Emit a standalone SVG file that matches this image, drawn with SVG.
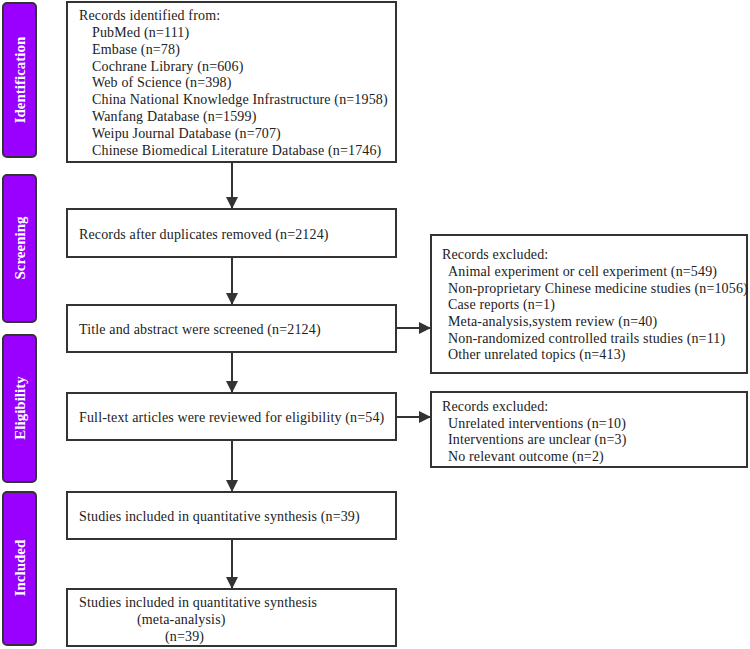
<svg xmlns="http://www.w3.org/2000/svg" width="750" height="649" viewBox="0 0 750 649">
<style>
.box{fill:#fff;stroke:#333;stroke-width:2}
.side{fill:#9900ff;stroke:#333;stroke-width:2}
.t{font-family:"Liberation Serif","Times New Roman",serif;font-size:14px;letter-spacing:0.15px;fill:#222}
.s{font-family:"Liberation Serif","Times New Roman",serif;font-size:15px;font-weight:bold;fill:#fff}
.ln{stroke:#333;stroke-width:2;fill:none}
</style>
<defs>
<marker id="ah" markerWidth="12" markerHeight="12" refX="11" refY="6" orient="auto" markerUnits="userSpaceOnUse">
<path d="M0,0 L12,6 L0,12 Z" fill="#333"/>
</marker>
</defs>
<rect width="750" height="649" fill="#fff"/>
<g id="stage-identification">
<rect class="side" x="3" y="3" width="33" height="154" rx="4"/>
<text class="s" transform="translate(25,80) rotate(-90)" text-anchor="middle">Identification</text>
</g>
<g id="stage-screening">
<rect class="side" x="3" y="175" width="33" height="147" rx="4"/>
<text class="s" transform="translate(25,248) rotate(-90)" text-anchor="middle">Screening</text>
</g>
<g id="stage-eligibility">
<rect class="side" x="3" y="335" width="33" height="147" rx="4"/>
<text class="s" transform="translate(25,408) rotate(-90)" text-anchor="middle">Eligibility</text>
</g>
<g id="stage-included">
<rect class="side" x="3" y="492" width="33" height="153" rx="4"/>
<text class="s" transform="translate(25,568) rotate(-90)" text-anchor="middle">Included</text>
</g>
<g id="connectors">
<line class="ln" x1="232" y1="162" x2="232" y2="208" marker-end="url(#ah)"/>
<line class="ln" x1="232" y1="257" x2="232" y2="304" marker-end="url(#ah)"/>
<line class="ln" x1="232" y1="352" x2="232" y2="392" marker-end="url(#ah)"/>
<line class="ln" x1="232" y1="440" x2="232" y2="491" marker-end="url(#ah)"/>
<line class="ln" x1="232" y1="539" x2="232" y2="588" marker-end="url(#ah)"/>
<line class="ln" x1="396" y1="328" x2="430" y2="328" marker-end="url(#ah)"/>
<line class="ln" x1="396" y1="417" x2="430" y2="417" marker-end="url(#ah)"/>
</g>
<g id="records-identified">
<rect class="box" x="67" y="2" width="329" height="160"/>
<text class="t" x="79" y="20">Records identified from:</text>
<text class="t" x="92" y="37">PubMed (n=111)</text>
<text class="t" x="92" y="54">Embase (n=78)</text>
<text class="t" x="92" y="71">Cochrane Library (n=606)</text>
<text class="t" x="92" y="87">Web of Science (n=398)</text>
<text class="t" x="92" y="104">China National Knowledge Infrastructure (n=1958)</text>
<text class="t" x="92" y="121">Wanfang Database (n=1599)</text>
<text class="t" x="92" y="138">Weipu Journal Database (n=707)</text>
<text class="t" x="92" y="155">Chinese Biomedical Literature Database (n=1746)</text>
</g>
<g id="after-duplicates">
<rect class="box" x="67" y="209" width="329" height="48"/>
<text class="t" x="79" y="239">Records after duplicates removed (n=2124)</text>
</g>
<g id="title-abstract">
<rect class="box" x="67" y="305" width="329" height="47"/>
<text class="t" x="79" y="334">Title and abstract were screened (n=2124)</text>
</g>
<g id="full-text">
<rect class="box" x="67" y="393" width="329" height="47"/>
<text class="t" x="79" y="422">Full-text articles were reviewed for eligibility (n=54)</text>
</g>
<g id="quantitative">
<rect class="box" x="67" y="492" width="329" height="47"/>
<text class="t" x="79" y="521">Studies included in quantitative synthesis  (n=39)</text>
</g>
<g id="meta-analysis">
<rect class="box" x="67" y="589" width="329" height="57"/>
<text class="t" x="79" y="607">Studies included in quantitative synthesis</text>
<text class="t" x="137" y="624">(meta-analysis)</text>
<text class="t" x="165" y="641">(n=39)</text>
</g>
<g id="excluded-1">
<rect class="box" x="431" y="235" width="316" height="138"/>
<text class="t" x="442" y="259">Records excluded:</text>
<text class="t" x="448" y="276">Animal experiment or cell experiment (n=549)</text>
<text class="t" x="448" y="293">Non-proprietary Chinese medicine studies (n=1056)</text>
<text class="t" x="448" y="309">Case reports (n=1)</text>
<text class="t" x="448" y="326">Meta-analysis,system review (n=40)</text>
<text class="t" x="448" y="343">Non-randomized controlled trails studies (n=11)</text>
<text class="t" x="448" y="359">Other unrelated topics (n=413)</text>
</g>
<g id="excluded-2">
<rect class="box" x="431" y="392" width="316" height="75"/>
<text class="t" x="442" y="411">Records excluded:</text>
<text class="t" x="448" y="428">Unrelated interventions (n=10)</text>
<text class="t" x="448" y="444">Interventions are unclear (n=3)</text>
<text class="t" x="448" y="461">No relevant outcome (n=2)</text>
</g>
</svg>
